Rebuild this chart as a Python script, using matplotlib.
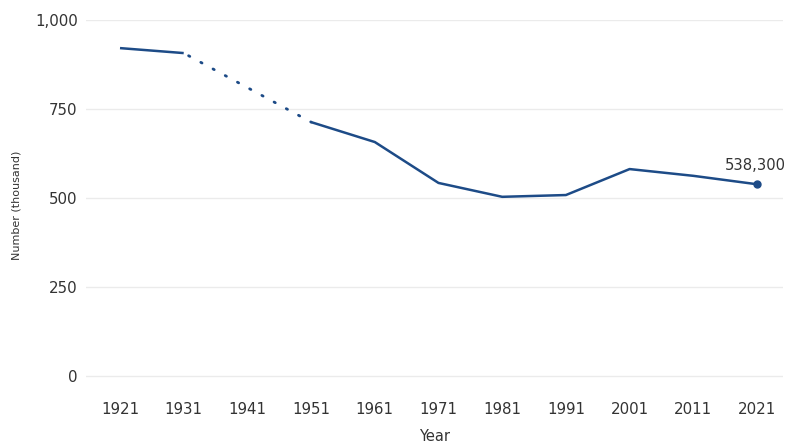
import matplotlib
matplotlib.use("Agg")
import matplotlib.pyplot as plt
import numpy as np

years = [1921, 1931, 1941, 1951, 1961, 1971, 1981, 1991, 2001, 2011, 2021]
values = [921, 907, np.nan, 713, 657, 542, 503, 508, 581, 562, 538.3]
xtick_labels = [str(y) for y in years]
yticks = [0, 250, 500, 750, 1000]
ytick_labels = ["0", "250", "500", "750", "1,000"]
last_label = "538,300"

color = "#1d4b87"
plt.rcParams['font.family'] = ['DejaVu Sans']

fig = plt.figure(figsize=(7.88, 4.43), dpi=100)
W, H = 788, 443
left, right, top, bottom = 86, 783, 20, 390
ax = fig.add_axes([left / W, 1 - bottom / H, (right - left) / W, (bottom - top) / H])
ax.set_ylim(-40, 1000)
px_per_year = (757 - 120) / 100
ax.set_xlim(1921 - (120 - left) / px_per_year, 2021 + (right - 757) / px_per_year)

for y in yticks:
    ax.axhline(y, color="#ebebeb", lw=1, zorder=0)

ax.plot(years, values, color=color, lw=1.8, solid_capstyle="butt")
ax.plot([years[1], years[3]], [values[1], values[3]], color=color, lw=2.0,
        linestyle=(3.0, (0.5, 4.5)), dash_capstyle="round")
ax.plot(years[-1], values[-1], "o", color=color, ms=5)
ax.annotate(last_label, (years[-1], values[-1]), xytext=(-1, 8), textcoords="offset points",
            ha="center", va="bottom", fontsize=10.6, color="#333333")

ax.set_xticks(years)
ax.set_xticklabels(xtick_labels)
ax.set_yticks(yticks)
ax.set_yticklabels(ytick_labels)
ax.tick_params(axis="both", length=0, labelsize=10.8, labelcolor="#333333")
ax.tick_params(axis="x", pad=9)
ax.tick_params(axis="y", pad=6)
for s in ax.spines.values():
    s.set_visible(False)
ax.set_xlabel("Year", fontsize=10.5, color="#333333", labelpad=8)
ax.set_ylabel("Number (thousand)", fontsize=8, color="#333333", labelpad=10)

fig.savefig("out.png", dpi=100)
